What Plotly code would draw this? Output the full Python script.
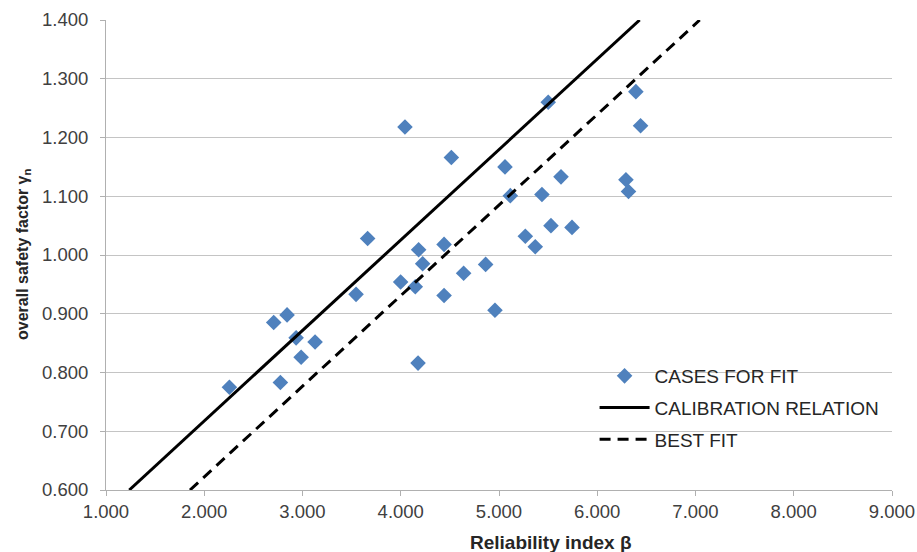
import plotly.graph_objects as go

# Data
beta = [2.256, 2.775, 2.707, 2.843, 2.935, 2.986, 3.128, 3.545, 3.663, 4.043,
        3.999, 4.148, 4.182, 4.223, 4.176, 4.441, 4.441, 4.515, 4.640, 4.864,
        4.959, 5.061, 5.115, 5.268, 5.369, 5.437, 5.501, 5.631, 5.529, 5.743,
        6.393, 6.441, 6.292, 6.318]
gamma = [0.775, 0.783, 0.885, 0.898, 0.859, 0.826, 0.852, 0.933, 1.028, 1.218,
         0.954, 0.946, 1.009, 0.985, 0.816, 1.018, 0.931, 1.166, 0.969, 0.984,
         0.906, 1.150, 1.101, 1.032, 1.014, 1.103, 1.260, 1.133, 1.050, 1.047,
         1.278, 1.220, 1.128, 1.108]

calib_beta = [1.237, 6.432]
calib_gamma = [0.600, 1.400]
fit_beta = [1.855, 7.043]
fit_gamma = [0.600, 1.400]

x_ticks = [1, 2, 3, 4, 5, 6, 7, 8, 9]
y_ticks = [0.6, 0.7, 0.8, 0.9, 1.0, 1.1, 1.2, 1.3, 1.4]

FONT = "Arial, Liberation Sans, sans-serif"

fig = go.Figure()
fig.add_trace(go.Scatter(
    x=beta, y=gamma, mode="markers", name="CASES FOR FIT",
    marker=dict(symbol="diamond", size=12, color="#4F81BD"),
    legendgroup="a"))
fig.add_trace(go.Scatter(
    x=calib_beta, y=calib_gamma, mode="lines", name="CALIBRATION RELATION",
    line=dict(color="black", width=3), legendgroup="b"))
fig.add_trace(go.Scatter(
    x=fit_beta, y=fit_gamma, mode="lines", name="BEST FIT",
    line=dict(color="black", width=3, dash="11px,7px"), legendgroup="c"))

fig.update_layout(
    width=917, height=552,
    margin=dict(l=106, r=25, t=20, b=62),
    paper_bgcolor="white", plot_bgcolor="white",
    font=dict(family=FONT, size=16, color="#404040"),
    showlegend=True,
    legend=dict(x=0.6216, y=0.283, xanchor="left", yanchor="top",
                bgcolor="rgba(255,255,255,0)", font=dict(size=19, color="#262626"),
                itemwidth=50, tracegroupgap=4),
    xaxis=dict(range=[1, 9], tickvals=x_ticks, tickformat=".3f",
               showgrid=False, zeroline=False, automargin=False,
               showline=True, linecolor="#b0b0b0", linewidth=1,
               ticks="outside", ticklen=5, tickcolor="#b0b0b0",
               tickfont=dict(size=18.5, color="#404040")),
    yaxis=dict(range=[0.6, 1.4], tickvals=y_ticks, tickformat=".3f",
               showgrid=True, gridcolor="#c4c4c4", gridwidth=1, zeroline=False,
               automargin=False,
               showline=True, linecolor="#b0b0b0", linewidth=1,
               ticks="outside", ticklen=5, tickcolor="#b0b0b0",
               ticklabelstandoff=8,
               tickfont=dict(size=18.5, color="#404040")),
    annotations=[
        dict(text="<b>Reliability index β</b>", xref="paper", yref="paper",
             x=(551 - 106) / 786, y=-(542 - 490) / 470,
             xanchor="center", yanchor="middle", showarrow=False,
             font=dict(size=19, color="#262626")),
        dict(text="<b>overall safety factor γ<sub>n</sub></b>", xref="paper", yref="paper",
             x=-(106 - 23) / 786, y=(490 - 254) / 470, textangle=-90,
             xanchor="center", yanchor="middle", showarrow=False,
             font=dict(size=16, color="#262626")),
    ],
)

fig.write_html("out.html")
